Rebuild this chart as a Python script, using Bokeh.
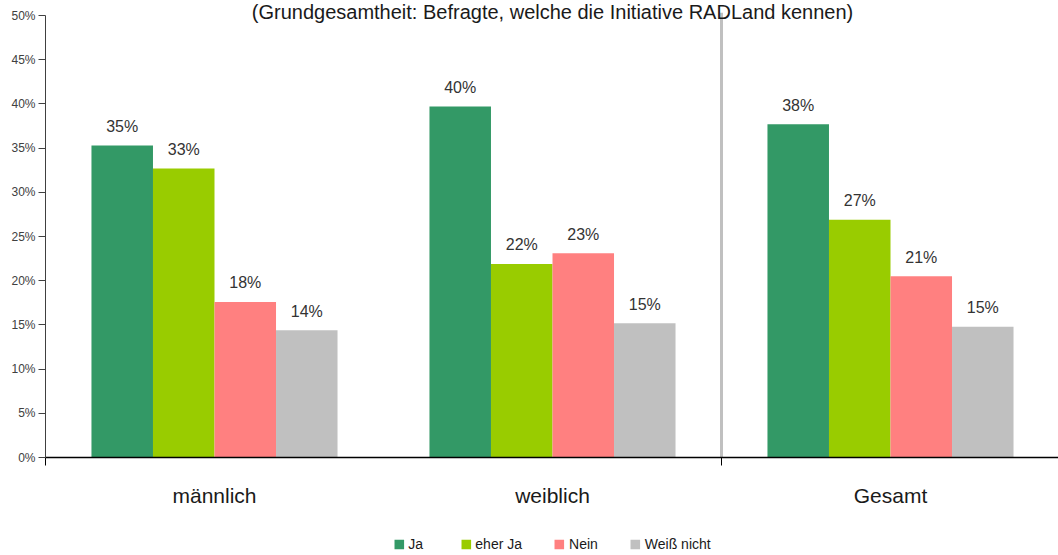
from bokeh.plotting import figure
from bokeh.layouts import column
from bokeh.models import (ColumnDataSource, Range1d, FixedTicker, LinearAxis, Legend, LegendItem,
                          Label)
from bokeh.core.properties import value
from bokeh.embed import file_html
from bokeh.resources import INLINE

groups = ["männlich", "weiblich", "Gesamt"]
series = ["Ja", "eher Ja", "Nein", "Weiß nicht"]
ja = [35.3, 39.7, 37.7]
eher_ja = [32.7, 21.9, 26.9]
nein = [17.6, 23.1, 20.5]
weiss_nicht = [14.4, 15.2, 14.8]
labels_ja = ["35%", "40%", "38%"]
labels_eher_ja = ["33%", "22%", "27%"]
labels_nein = ["18%", "23%", "21%"]
labels_weiss = ["14%", "15%", "15%"]
colors = ["#339966", "#99CC00", "#FF8080", "#C0C0C0"]
y_ticks = [0, 5, 10, 15, 20, 25, 30, 35, 40, 45, 50]
title_text = "(Grundgesamtheit: Befragte, welche die Initiative RADLand kennen)"

FONT = "Liberation Sans"
TXT = "#1a1a1a"

px_per_unit = 338.0
frame_w = 1013
frame_h = 457
px_per_pct = 8.84

p = figure(output_backend="svg", toolbar_location=None,
           frame_width=frame_w, frame_height=frame_h,
           min_border_left=45, min_border_right=0, min_border_top=0, min_border_bottom=55,
           x_range=Range1d(0, frame_w / px_per_unit), y_range=Range1d(0, frame_h / px_per_pct),
           x_axis_type=None, y_axis_type=None)
p.outline_line_color = None
p.grid.visible = False
p.background_fill_color = "white"
p.border_fill_color = "white"

# y axis
yax = LinearAxis(ticker=FixedTicker(ticks=y_ticks, minor_ticks=[]), bounds=(0, 50))
yax.major_label_overrides = {t: f"{t}%" for t in y_ticks}
yax.major_label_text_font = FONT
yax.major_label_text_font_size = "12px"
yax.major_label_text_color = "#404040"
yax.major_tick_in = 0
yax.major_tick_out = 7
yax.major_label_standoff = 3
yax.axis_line_color = "#404040"
yax.major_tick_line_color = "#404040"
p.add_layout(yax, "left")

# x axis (category names between the boundary ticks)
xax = LinearAxis(ticker=FixedTicker(ticks=[0.5, 1.5, 2.5], minor_ticks=[0, 2]))
xax.major_label_overrides = {0.5: groups[0], 1.5: groups[1], 2.5: groups[2]}
xax.major_label_text_font = FONT
xax.major_label_text_font_size = "21px"
xax.major_label_text_color = TXT
xax.major_tick_in = 0
xax.major_tick_out = 0
xax.minor_tick_in = 0
xax.minor_tick_out = 8
xax.minor_tick_line_color = "black"
xax.axis_line_color = "black"
xax.axis_line_width = 1.5
xax.major_label_standoff = 18
p.add_layout(xax, "below")

# separator between groups and total
p.segment(x0=[2], y0=[0], x1=[2], y1=[50.3], line_color="#C0C0C0", line_width=3)

bar_w = 0.182
all_vals = [ja, eher_ja, nein, weiss_nicht]
all_labels = [labels_ja, labels_eher_ja, labels_nein, labels_weiss]
for k, (name, vals, labs, col) in enumerate(zip(series, all_vals, all_labels, colors)):
    xs = [i + 0.5 + (k - 1.5) * bar_w for i in range(len(groups))]
    src = ColumnDataSource(dict(x=xs, top=vals, lab=labs))
    p.vbar(x="x", top="top", width=bar_w, bottom=0, source=src,
           fill_color=col, line_color=None)
    p.text(x="x", y="top", text="lab", source=src, text_align="center",
           text_baseline="middle", y_offset=-19, text_font=value(FONT),
           text_font_size="16px", text_color="#333333")

p.add_layout(Label(x=1.5, y=50.4, text=title_text, text_align="center", text_baseline="middle",
                   text_font=FONT, text_font_size="20px", text_color=TXT))

# legend strip below the chart (proxy renderers have zero height, so they draw nothing)
lg = figure(output_backend="svg", toolbar_location=None,
            frame_width=frame_w, frame_height=43,
            min_border_left=42, min_border_right=3, min_border_top=0, min_border_bottom=0,
            x_range=Range1d(0, 1), y_range=Range1d(0, 1),
            x_axis_type=None, y_axis_type=None)
lg.outline_line_color = None
lg.grid.visible = False
items = []
for name, col in zip(series, colors):
    r = lg.vbar(x=[0.5], top=[0], bottom=0, width=0.1, fill_color=col, line_color=None)
    items.append(LegendItem(label=name, renderers=[r]))
legend = Legend(items=items, orientation="horizontal", location="bottom_center",
                glyph_width=12, glyph_height=12, label_standoff=4, spacing=31,
                padding=0, margin=3, border_line_color=None, background_fill_alpha=0,
                label_text_font=FONT, label_text_font_size="14px", label_text_color=TXT,
                label_height=12)
lg.add_layout(legend, "center")

layout = column(p, lg, spacing=0)
open("out.html", "w").write(file_html(layout, INLINE))
